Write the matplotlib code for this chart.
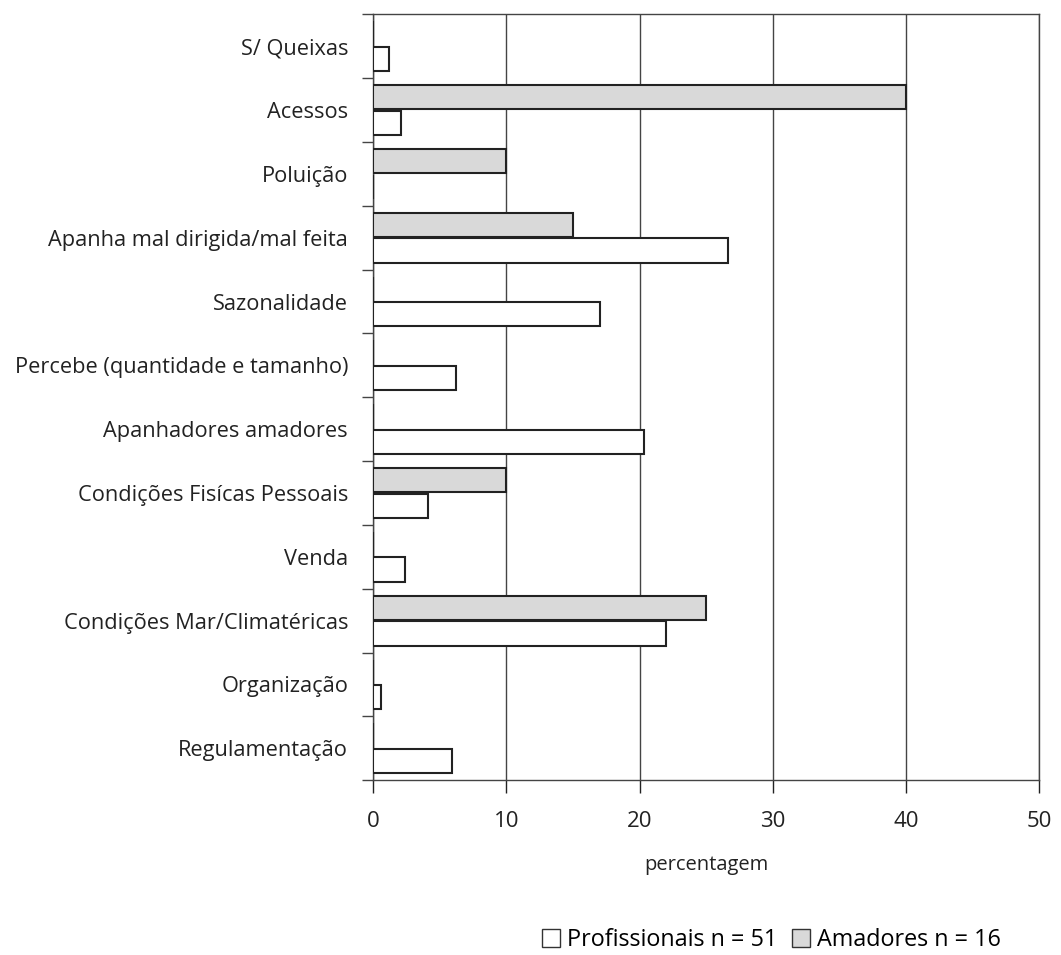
import numpy as np
import matplotlib
matplotlib.use("Agg")
import matplotlib.pyplot as plt
from matplotlib.patches import Patch

plt.rcParams['font.family'] = ['Open Sans', 'DejaVu Sans']

# data (percentages)
categorias = ['S/ Queixas', 'Acessos', 'Poluição', 'Apanha mal dirigida/mal feita',
              'Sazonalidade', 'Percebe (quantidade e tamanho)', 'Apanhadores amadores',
              'Condições Fisícas Pessoais', 'Venda', 'Condições Mar/Climatéricas',
              'Organização', 'Regulamentação']
profissionais = [1.2, 2.1, 0, 26.6, 17.0, 6.2, 20.3, 4.1, 2.4, 22.0, 0.6, 5.9]
amadores = [0, 40, 10, 15, 0, 0, 0, 10, 0, 25, 0, 0]

y = np.arange(len(categorias))
h = 0.38

fig = plt.figure(figsize=(10.61, 9.55), dpi=100)
ax = fig.add_axes([0.3516, 0.183, 0.628, 0.802])

ax.barh(y - 0.2, amadores, height=h, color='#d9d9d9', edgecolor='#222222', lw=1.5, zorder=3)
ax.barh(y + 0.2, profissionais, height=h, color='white', edgecolor='#222222', lw=1.5, zorder=3)

ax.set_xlim(0, 50)
ax.set_ylim(len(categorias) - 0.5, -0.5)
ax.set_xticks([0, 10, 20, 30, 40, 50])
ax.set_yticks(y)
ax.set_yticklabels(categorias)
ax.set_yticks(np.arange(-0.5, len(categorias)), minor=True)
ax.tick_params(axis='y', which='major', length=0, pad=18, labelsize=15.7, colors='#222222')
ax.tick_params(axis='y', which='minor', length=8, width=1, color='#444444')
ax.tick_params(axis='x', length=9, width=1, pad=13, labelsize=16, colors='#222222')
ax.grid(axis='x', color='#444444', lw=1, zorder=0)
for s in ax.spines.values():
    s.set_color('#444444')
    s.set_linewidth(1)

ax.set_xlabel('percentagem', fontsize=14.5, labelpad=17, color='#222222')

handles = [Patch(facecolor='white', edgecolor='#333333', lw=1, label='Profissionais n = 51'),
           Patch(facecolor='#d9d9d9', edgecolor='#333333', lw=1, label='Amadores n = 16')]
fig.legend(handles=handles, loc='center', bbox_to_anchor=(0.727, 0.016), ncol=2,
           frameon=False, fontsize=16.8, handlelength=0.8, handleheight=0.8,
           handletextpad=0.3, columnspacing=0.6)

fig.savefig('out.png', dpi=100)
